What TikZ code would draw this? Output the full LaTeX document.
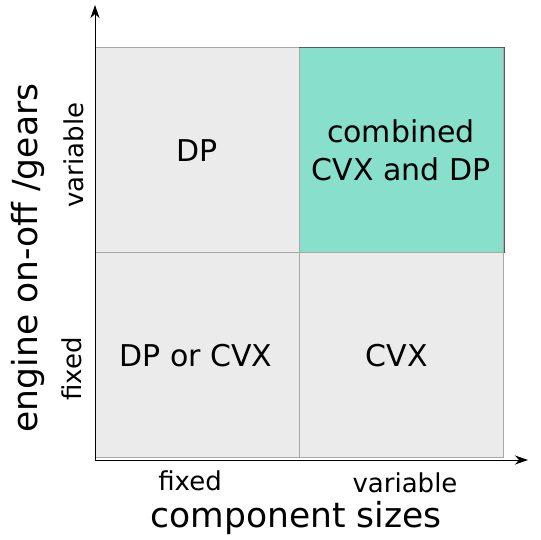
\documentclass[tikz,border=0pt]{standalone}
\usepackage{fontspec}
\setmainfont{DejaVu Sans}
\usetikzlibrary{arrows.meta}
\definecolor{cellgray}{HTML}{EBEBEB}
\definecolor{cellline}{HTML}{A8A8A8}
\definecolor{teal}{HTML}{88DFCC}
\begin{document}
\begin{tikzpicture}[x=1pt,y=-1pt,
  cell/.style={draw=cellline, line width=1pt, fill=cellgray, minimum width=204pt, minimum height=205pt, inner sep=0pt, anchor=north west},
  celltext/.style={font=\fontsize{30}{38}\selectfont, align=center},
  ticktext/.style={font=\fontsize{26}{30}\selectfont},
  axistext/.style={font=\fontsize{34.5}{40}\selectfont},
  axisarrow/.style={line width=1pt, -{Stealth[length=13pt,width=9pt,inset=4pt]}}]
\useasboundingbox (0,0) rectangle (541,539);
\node[cell] (tl) at (95,47) {};
\node[cell, fill=teal, draw=cellline] (tr) at (299,47) {};
\node[cell] (bl) at (95,252) {};
\node[cell] (br) at (299,252) {};
\draw[line width=1pt, draw=black!65] (tr.north west) -- (tr.north east) -- (tr.south east);
\node[celltext] (dp) at (197,151) {DP};
\node[celltext] (comb) at (401,150) {combined\\CVX and DP};
\node[celltext] (dpcvx) at (196,356) {DP or CVX};
\node[celltext] (cvx) at (397,356) {CVX};
\coordinate (o) at (95,460);
\coordinate (ytip) at (95,5);
\coordinate (xtip) at (528,460);
\draw[axisarrow] (o) -- (ytip);
\draw[axisarrow] (o) -- (xtip);
\node[ticktext] (xf) at (190,481) {fixed};
\node[ticktext] (xv) at (405,483) {variable};
\node[axistext] (xl) at (296,518) {component sizes};
\node[axistext, rotate=90] (yl) at (28,258) {engine on-off /gears};
\node[ticktext, rotate=90] (yv) at (74,155) {variable};
\node[ticktext, rotate=90] (yf) at (72,369) {fixed};
\end{tikzpicture}
\end{document}
